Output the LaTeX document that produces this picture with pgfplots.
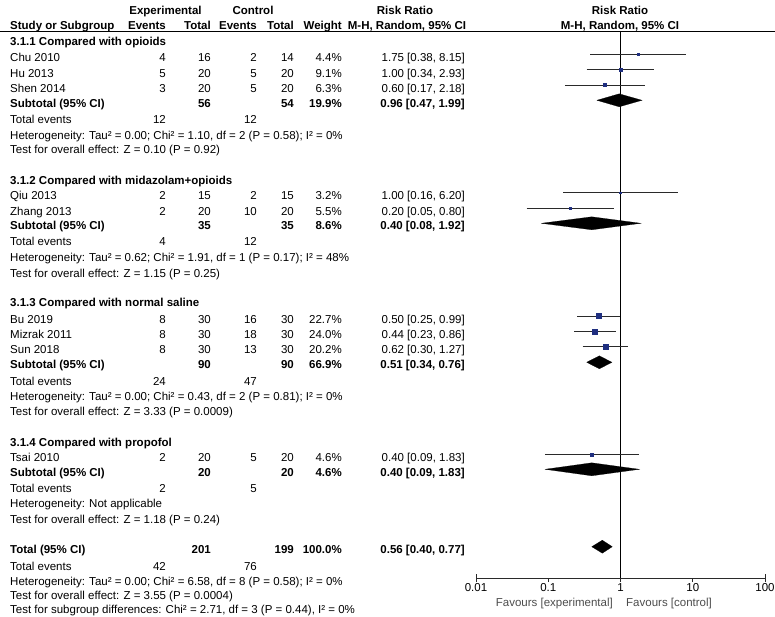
\documentclass[border=0pt]{standalone}
\usepackage{fontspec}
\setmainfont{Liberation Sans}
\usepackage{pgfplots}
\pgfplotsset{compat=1.18}
\definecolor{sq}{HTML}{1F2F80}
\definecolor{ci}{HTML}{2A2A2A}
\newcommand{\fs}{\fontsize{11.5}{13}\selectfont}
\tikzset{t/.style={inner sep=0pt, font=\fs, text=black}}
% study row: y name ee et ce ct w rr
\newcommand{\RowS}[8]{%
 \node[t,anchor=base west] at (axis cs:10,-#1) {#2};
 \node[t,anchor=base east] at (axis cs:166,-#1) {#3};
 \node[t,anchor=base east] at (axis cs:211,-#1) {#4};
 \node[t,anchor=base east] at (axis cs:257,-#1) {#5};
 \node[t,anchor=base east] at (axis cs:294,-#1) {#6};
 \node[t,anchor=base east] at (axis cs:342,-#1) {#7};
 \node[t,anchor=base east] at (axis cs:465,-#1) {#8};}
% subtotal row: y label et ct w rr
\newcommand{\RowSub}[6]{%
 \node[t,anchor=base west] at (axis cs:10,-#1) {\bfseries #2};
 \node[t,anchor=base east] at (axis cs:211,-#1) {\bfseries #3};
 \node[t,anchor=base east] at (axis cs:294,-#1) {\bfseries #4};
 \node[t,anchor=base east] at (axis cs:342,-#1) {\bfseries #5};
 \node[t,anchor=base east] at (axis cs:465,-#1) {\bfseries #6};}
\newcommand{\RowTE}[3]{%
 \node[t,anchor=base west] at (axis cs:10,-#1) {Total events};
 \node[t,anchor=base east] at (axis cs:166,-#1) {#2};
 \node[t,anchor=base east] at (axis cs:257,-#1) {#3};}
\newcommand{\RowTxt}[2]{\node[t,anchor=base west] at (axis cs:10,-#1) {#2};}
\newcommand{\RowHd}[2]{\node[t,anchor=base west] at (axis cs:10,-#1) {\bfseries #2};}
\begin{document}
\begin{tikzpicture}
\begin{axis}[at={(0pt,0pt)}, anchor=south west, scale only axis,
  width=775pt, height=616pt, xmin=0, xmax=775, ymin=-616, ymax=0,
  hide axis, clip=false]
\addplot[black, line width=0.9pt] coordinates {(0,-31) (775,-31)};
% header
\node[t,anchor=base] at (axis cs:165.5,-15) {\bfseries Experimental};
\node[t,anchor=base] at (axis cs:253,-15) {\bfseries Control};
\node[t,anchor=base] at (axis cs:405,-15) {\bfseries Risk Ratio};
\node[t,anchor=base] at (axis cs:620,-15) {\bfseries Risk Ratio};
\node[t,anchor=base west] at (axis cs:10,-29.3) {\bfseries Study or Subgroup};
\node[t,anchor=base east] at (axis cs:166,-29.3) {\bfseries Events};
\node[t,anchor=base east] at (axis cs:211,-29.3) {\bfseries Total};
\node[t,anchor=base east] at (axis cs:257,-29.3) {\bfseries Events};
\node[t,anchor=base east] at (axis cs:294,-29.3) {\bfseries Total};
\node[t,anchor=base east] at (axis cs:342,-29.3) {\bfseries Weight};
\node[t,anchor=base] at (axis cs:407,-29.3) {\bfseries M-H, Random, 95\% CI};
\node[t,anchor=base] at (axis cs:620,-29.3) {\bfseries M-H, Random, 95\% CI};
% 3.1.1
\RowHd{45.7}{3.1.1 Compared with opioids}
\RowS{62}{Chu 2010}{4}{16}{2}{14}{4.4\%}{1.75 [0.38, 8.15]}
\RowS{77.7}{Hu 2013}{5}{20}{5}{20}{9.1\%}{1.00 [0.34, 2.93]}
\RowS{92.7}{Shen 2014}{3}{20}{5}{20}{6.3\%}{0.60 [0.17, 2.18]}
\RowSub{107.7}{Subtotal (95\% CI)}{56}{54}{19.9\%}{0.96 [0.47, 1.99]}
\RowTE{124}{12}{12}
\RowTxt{139.7}{Heterogeneity: Tau² = 0.00; Chi² = 1.10, df = 2 (P = 0.58); I² = 0\%}
\RowTxt{154}{Test for overall effect: Z = 0.10 (P = 0.92)}
% 3.1.2
\RowHd{184.3}{3.1.2 Compared with midazolam+opioids}
\RowS{200}{Qiu 2013}{2}{15}{2}{15}{3.2\%}{1.00 [0.16, 6.20]}
\RowS{215.7}{Zhang 2013}{2}{20}{10}{20}{5.5\%}{0.20 [0.05, 0.80]}
\RowSub{230}{Subtotal (95\% CI)}{35}{35}{8.6\%}{0.40 [0.08, 1.92]}
\RowTE{246}{4}{12}
\RowTxt{261.7}{Heterogeneity: Tau² = 0.62; Chi² = 1.91, df = 1 (P = 0.17); I² = 48\%}
\RowTxt{277.3}{Test for overall effect: Z = 1.15 (P = 0.25)}
% 3.1.3
\RowHd{306.7}{3.1.3 Compared with normal saline}
\RowS{323.3}{Bu 2019}{8}{30}{16}{30}{22.7\%}{0.50 [0.25, 0.99]}
\RowS{338.3}{Mizrak 2011}{8}{30}{18}{30}{24.0\%}{0.44 [0.23, 0.86]}
\RowS{354}{Sun 2018}{8}{30}{13}{30}{20.2\%}{0.62 [0.30, 1.27]}
\RowSub{368.3}{Subtotal (95\% CI)}{90}{90}{66.9\%}{0.51 [0.34, 0.76]}
\RowTE{385}{24}{47}
\RowTxt{400}{Heterogeneity: Tau² = 0.00; Chi² = 0.43, df = 2 (P = 0.81); I² = 0\%}
\RowTxt{415}{Test for overall effect: Z = 3.33 (P = 0.0009)}
% 3.1.4
\RowHd{446}{3.1.4 Compared with propofol}
\RowS{461.7}{Tsai 2010}{2}{20}{5}{20}{4.6\%}{0.40 [0.09, 1.83]}
\RowSub{476}{Subtotal (95\% CI)}{20}{20}{4.6\%}{0.40 [0.09, 1.83]}
\RowTE{492.3}{2}{5}
\RowTxt{507.7}{Heterogeneity: Not applicable}
\RowTxt{523.3}{Test for overall effect: Z = 1.18 (P = 0.24)}
% total
\RowSub{553.3}{Total (95\% CI)}{201}{199}{100.0\%}{0.56 [0.40, 0.77]}
\RowTE{570}{42}{76}
\RowTxt{585}{Heterogeneity: Tau² = 0.00; Chi² = 6.58, df = 8 (P = 0.58); I² = 0\%}
\RowTxt{599.5}{Test for overall effect: Z = 3.55 (P = 0.0004)}
\RowTxt{613}{Test for subgroup differences: Chi² = 2.71, df = 3 (P = 0.44), I² = 0\%}
% favours
\node[t,anchor=base east,text=black!70] at (axis cs:613,-606.5) {Favours [experimental]};
\node[t,anchor=base west,text=black!70] at (axis cs:626,-606.5) {Favours [control]};
\end{axis}
\begin{axis}[at={(476pt,38pt)}, anchor=south west, scale only axis,
  width=289pt, height=547pt, xmode=log, xmin=0.01, xmax=100,
  ymin=-578, ymax=-31, axis x line=bottom, axis y line=none,
  x axis line style={-, line width=0.9pt, color=ci},
  xtick={0.01,0.1,1,10,100}, xticklabels={0.01,0.1,1,10,100},
  xminorticks=false, ytick=\empty,
  tick align=outside, major tick length=4pt,
  xtick style={line width=0.9pt, color=ci},
  extra x ticks={0.01,100}, extra x tick labels={},
  extra x tick style={tick align=center, major tick length=8pt},
  xticklabel style={font=\fs, inner sep=1pt, text=black},
  clip=false]
\addplot[black, line width=1pt] coordinates {(1,-31) (1,-578)};
% CI lines
\addplot[ci, line width=0.9pt] coordinates {(0.38,-54) (8.15,-54)};
\addplot[ci, line width=0.9pt] coordinates {(0.34,-69.7) (2.93,-69.7)};
\addplot[ci, line width=0.9pt] coordinates {(0.17,-85) (2.18,-85)};
\addplot[ci, line width=0.9pt] coordinates {(0.16,-192.7) (6.20,-192.7)};
\addplot[ci, line width=0.9pt] coordinates {(0.05,-208.3) (0.80,-208.3)};
\addplot[ci, line width=0.9pt] coordinates {(0.25,-316) (0.99,-316)};
\addplot[ci, line width=0.9pt] coordinates {(0.23,-331.7) (0.86,-331.7)};
\addplot[ci, line width=0.9pt] coordinates {(0.30,-346.7) (1.27,-346.7)};
\addplot[ci, line width=0.9pt] coordinates {(0.09,-454.7) (1.83,-454.7)};
% squares
\addplot[only marks, mark=square*, mark size=1.15pt, sq, mark options={draw=none}] coordinates {(1.75,-54)};
\addplot[only marks, mark=square*, mark size=1.65pt, sq, mark options={draw=none}] coordinates {(1.00,-69.7)};
\addplot[only marks, mark=square*, mark size=1.38pt, sq, mark options={draw=none}] coordinates {(0.60,-85)};
\addplot[only marks, mark=square*, mark size=0.98pt, sq, mark options={draw=none}] coordinates {(1.00,-192.7)};
\addplot[only marks, mark=square*, mark size=1.29pt, sq, mark options={draw=none}] coordinates {(0.20,-208.3)};
\addplot[only marks, mark=square*, mark size=2.62pt, sq, mark options={draw=none}] coordinates {(0.50,-316)};
\addplot[only marks, mark=square*, mark size=2.69pt, sq, mark options={draw=none}] coordinates {(0.44,-331.7)};
\addplot[only marks, mark=square*, mark size=2.47pt, sq, mark options={draw=none}] coordinates {(0.62,-346.7)};
\addplot[only marks, mark=square*, mark size=1.18pt, sq, mark options={draw=none}] coordinates {(0.40,-454.7)};
% diamonds
\addplot[fill=black, draw=black, line width=0.2pt] coordinates {(0.47,-100.3) (0.96,-93.8) (1.99,-100.3) (0.96,-106.8) (0.47,-100.3)};
\addplot[fill=black, draw=black, line width=0.2pt] coordinates {(0.08,-223.3) (0.40,-216.8) (1.92,-223.3) (0.40,-229.8) (0.08,-223.3)};
\addplot[fill=black, draw=black, line width=0.2pt] coordinates {(0.34,-362.3) (0.51,-355.8) (0.76,-362.3) (0.51,-368.8) (0.34,-362.3)};
\addplot[fill=black, draw=black, line width=0.2pt] coordinates {(0.09,-469.3) (0.40,-462.8) (1.83,-469.3) (0.40,-475.8) (0.09,-469.3)};
\addplot[fill=black, draw=black, line width=0.2pt] coordinates {(0.40,-546.7) (0.56,-540.2) (0.77,-546.7) (0.56,-553.2) (0.40,-546.7)};
\end{axis}
\pgfresetboundingbox
\path (0,0) rectangle (775pt,616pt);
\end{tikzpicture}
\end{document}
